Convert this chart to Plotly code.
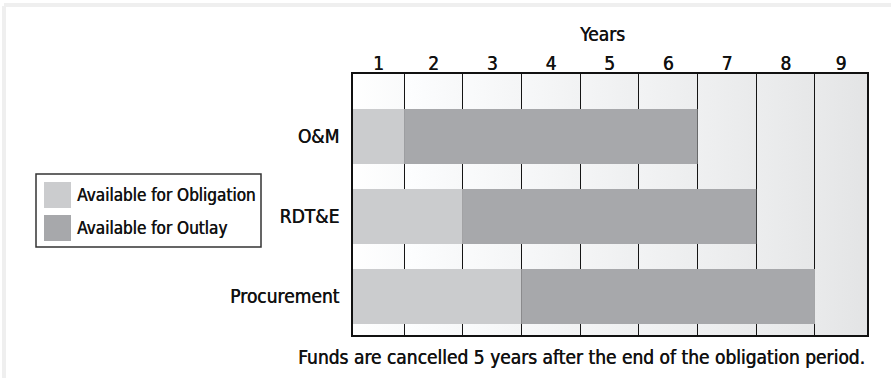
import urllib.parse

import plotly.graph_objects as go

# ---- data -------------------------------------------------------------
programs = ["O&M", "RDT&E", "Procurement"]
obligation_years = [1, 2, 3]          # years funds are available for obligation
outlay_years = [5, 5, 5]              # further years available for outlay
year_labels = ["1", "2", "3", "4", "5", "6", "7", "8", "9"]
series_names = ["Available for Obligation", "Available for Outlay"]
footnote = "Funds are cancelled 5 years after the end of the obligation period."
axis_title = "Years"

# ---- styling ----------------------------------------------------------
FONT = "DejaVu Sans Condensed, DejaVu Sans, sans-serif"
TEXT_SHADOW = "0.5px 0 0 #111"       # light faux-medium weight
C_OBLIG = "#cbccce"
C_OUTLAY = "#a7a8ab"
FIG_W, FIG_H = 891, 378
M_L, M_R, M_T, M_B = 353, 24, 74, 43
PLOT_W = FIG_W - M_L - M_R
PLOT_H = FIG_H - M_T - M_B
X_RANGE = [0.13, 8.886]
Y_RANGE = [2.481, -0.781]
BAR_W = 0.6875


def px(xp):
    """figure pixel x -> paper x"""
    return (xp - M_L) / PLOT_W


def py(yp):
    """figure pixel y (from top) -> paper y"""
    return (FIG_H - M_B - yp) / PLOT_H


# visible span of every year column
n_years = len(year_labels)
col_lo = [max(k, X_RANGE[0]) for k in range(n_years)]
col_hi = [min(k + 1, X_RANGE[1]) for k in range(n_years)]
tick_pos = [(a + b) / 2 for a, b in zip(col_lo, col_hi)]

# ---- background: one soft horizontal gradient per year column ----------
span = X_RANGE[1] - X_RANGE[0]
scale = 1000.0
defs, rects = [], []
for k in range(n_years):
    t0 = (col_lo[k] - X_RANGE[0]) / span
    g0 = int(round(255 - 24 * t0))
    g1 = g0 - 6
    c0 = f"rgb({g0},{min(g0 + 1, 255)},{min(g0 + 2, 255)})"
    c1 = f"rgb({g1},{g1 + 1},{g1 + 2})"
    defs.append(
        f'<linearGradient id="g{k}" x1="0" x2="1" y1="0" y2="0">'
        f'<stop offset="0" stop-color="{c0}"/><stop offset="1" stop-color="{c1}"/>'
        f"</linearGradient>"
    )
    x = (col_lo[k] - X_RANGE[0]) * scale
    w = (col_hi[k] - col_lo[k]) * scale
    rects.append(f'<rect x="{x:.2f}" y="0" width="{w + 0.5:.2f}" height="100" fill="url(#g{k})"/>')
svg = (
    f'<svg xmlns="http://www.w3.org/2000/svg" viewBox="0 0 {span * scale:.2f} 100" '
    f'preserveAspectRatio="none" width="{span * scale:.0f}" height="100">'
    f'<defs>{"".join(defs)}</defs>{"".join(rects)}</svg>'
)
bg_src = "data:image/svg+xml;charset=utf-8," + urllib.parse.quote(svg)

# ---- figure ------------------------------------------------------------
fig = go.Figure()
y_idx = list(range(len(programs)))
fig.add_trace(go.Bar(
    name=series_names[0], orientation="h", y=y_idx,
    x=obligation_years, base=[0] * len(programs),
    width=BAR_W, marker=dict(color=C_OBLIG, line=dict(width=0)),
    showlegend=False, hoverinfo="skip",
))
fig.add_trace(go.Bar(
    name=series_names[1], orientation="h", y=y_idx,
    x=outlay_years, base=obligation_years,
    width=BAR_W, marker=dict(color=C_OUTLAY, line=dict(width=0)),
    showlegend=False, hoverinfo="skip",
))

fig.update_layout(
    width=FIG_W, height=FIG_H,
    margin=dict(l=M_L, r=M_R, t=M_T, b=M_B, pad=0),
    paper_bgcolor="white", plot_bgcolor="white",
    barmode="overlay",
    font=dict(family=FONT, size=19, color="#111", shadow=TEXT_SHADOW),
    xaxis=dict(
        side="top", range=X_RANGE, tickmode="array",
        tickvals=tick_pos, ticktext=year_labels,
        showgrid=False, zeroline=False, ticks="",
        showline=True, linecolor="#111", linewidth=2, mirror=True,
        ticklabelstandoff=-6,
        tickfont=dict(family=FONT, size=19, color="#111", shadow=TEXT_SHADOW),
        minor=dict(tickmode="array", tickvals=list(range(1, n_years)),
                   showgrid=True, gridcolor="#151515", gridwidth=1.4, ticks=""),
        fixedrange=True,
    ),
    yaxis=dict(
        range=Y_RANGE, tickmode="array", tickvals=y_idx, ticktext=programs,
        showgrid=False, zeroline=False, ticks="",
        showline=True, linecolor="#111", linewidth=2, mirror=True,
        ticklabelstandoff=8,
        tickfont=dict(family=FONT, size=19, color="#111", shadow=TEXT_SHADOW),
        fixedrange=True,
    ),
    images=[dict(
        source=bg_src, xref="x", yref="paper",
        x=X_RANGE[0], y=1, sizex=span, sizey=1,
        xanchor="left", yanchor="top", sizing="stretch", layer="below",
    )],
)

# card edge shadow around the graphic
shapes = [
    dict(type="rect", xref="paper", yref="paper", x0=px(2), x1=px(6), y0=py(FIG_H), y1=py(6),
         fillcolor="#efefef", line=dict(width=0)),
    dict(type="rect", xref="paper", yref="paper", x0=px(4), x1=px(FIG_W), y0=py(7), y1=py(3),
         fillcolor="#efefef", line=dict(width=0)),
]

# legend box with large swatches
shapes.append(dict(type="rect", xref="paper", yref="paper",
                   x0=px(36), x1=px(261), y0=py(247), y1=py(174),
                   fillcolor="white", line=dict(color="#333", width=1.5)))
swatch_rows = [(182, 208), (215, 241)]
swatch_cols = [C_OBLIG, C_OUTLAY]
annotations = []
for (top, bot), col, name in zip(swatch_rows, swatch_cols, series_names):
    shapes.append(dict(type="rect", xref="paper", yref="paper",
                       x0=px(44), x1=px(71), y0=py(bot), y1=py(top),
                       fillcolor=col, line=dict(width=0)))
    annotations.append(dict(text=name, xref="paper", yref="paper",
                            x=px(75), y=py((top + bot) / 2),
                            xanchor="left", yanchor="middle", showarrow=False,
                            font=dict(family=FONT, size=17, color="#111",
                                      shadow=TEXT_SHADOW)))

annotations.append(dict(text=axis_title, xref="paper", yref="paper",
                        x=px(602), y=py(34), xanchor="center", yanchor="middle",
                        showarrow=False))
annotations.append(dict(text=footnote, xref="paper", yref="paper",
                        x=px(867), y=py(357), xanchor="right", yanchor="middle",
                        showarrow=False))

fig.update_layout(shapes=shapes, annotations=annotations)
fig.write_html("out.html")
